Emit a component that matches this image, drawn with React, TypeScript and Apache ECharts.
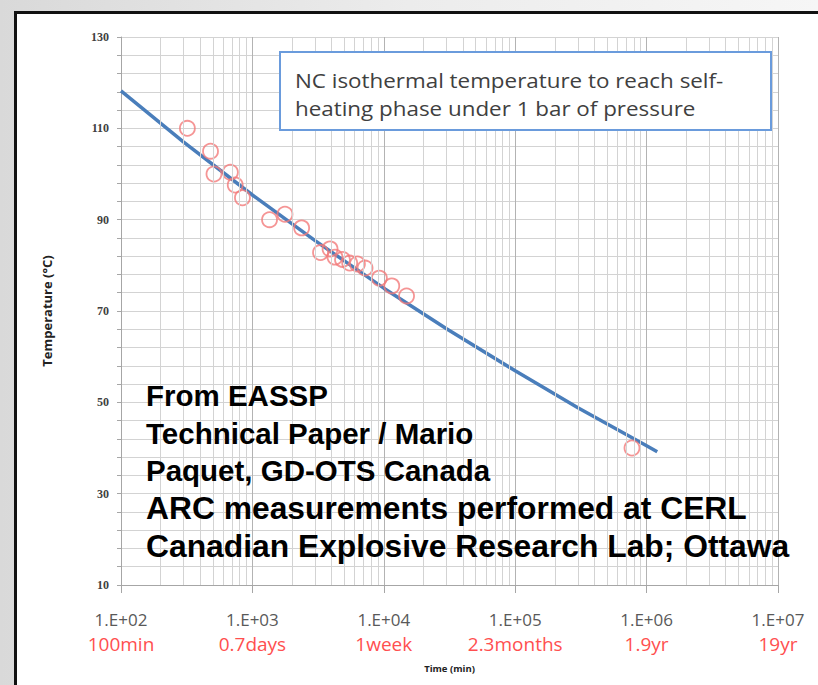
import React, { useEffect, useRef } from "react";
import * as echarts from "echarts";

// Measured points: time to self-heating (min) and isothermal temperature (°C)
const TIME_MIN = [320, 480, 510, 680, 740, 840, 1350, 1770, 2370, 3300, 3900, 4250, 4850, 5500, 6300, 7200, 9250, 11500, 14900, 774000];
const TEMP_C = [110, 105, 100, 100.4, 97.6, 94.8, 90, 91.2, 88.2, 82.8, 83.6, 81.8, 81.3, 80.5, 80.3, 79.4, 77.2, 75.5, 73.3, 40];

// Fitted trend curve
const FIT_TIME = [100, 300, 1000, 3000, 10000, 30000, 100000, 300000, 1000000, 1205000];
const FIT_TEMP = [118.2, 107.0, 95.4, 85.4, 75.0, 66.1, 56.9, 48.8, 40.5, 39.2];

// Axis labels
const X_TICK_LABELS = ["1.E+02", "1.E+03", "1.E+04", "1.E+05", "1.E+06", "1.E+07"];
const X_TIME_LABELS = ["100min", "0.7days", "1week", "2.3months", "1.9yr", "19yr"];
const Y_MIN = 10;
const Y_MAX = 130;
const Y_LABEL_STEP = 20;
const Y_GRID_STEP = 4;

const BOX_TEXT = ["NC isothermal temperature to reach self-", "heating phase under 1 bar of pressure"];
const NOTE_TEXT_A = ["From EASSP", "Technical Paper / Mario", "Paquet, GD-OTS Canada"];
const NOTE_TEXT_B = ["ARC measurements performed at CERL", "Canadian Explosive Research Lab; Ottawa"];

const decadeIndex = (v: number) => Math.round(Math.log10(v)) - 2;

export default function App() {
  const ref = useRef<HTMLDivElement>(null);
  useEffect(() => {
    document.body.style.margin = "0";
    const chart = echarts.init(ref.current!, undefined, { renderer: "svg" });

    const minorX: number[] = [];
    for (let k = 2; k < 7; k++) {
      for (let m = 2; m <= 9; m++) minorX.push(m * Math.pow(10, k));
    }

    const baseX = {
      type: "log",
      logBase: 10,
      min: 100,
      max: 10000000,
      splitNumber: 5,
      gridIndex: 0,
      position: "bottom",
    };

    const option: any = {
      animation: false,
      backgroundColor: "transparent",
      graphic: [
        {
          type: "rect",
          z: -20,
          silent: true,
          shape: { x: 0, y: 0, width: 818, height: 685 },
          style: {
            fill: new echarts.graphic.LinearGradient(0, 0, 1, 0, [
              { offset: 0, color: "#d9d9d9" },
              { offset: 0.5, color: "#ececec" },
              { offset: 1, color: "#f6f6f6" },
            ]),
          },
        },
        {
          type: "rect",
          z: -19,
          silent: true,
          shape: { x: 15.5, y: 12.5, width: 900, height: 800 },
          style: { fill: "#ffffff", stroke: "#111111", lineWidth: 3 },
        },
        {
          type: "rect",
          z: 10,
          silent: true,
          shape: { x: 280, y: 52, width: 491, height: 78 },
          style: { fill: "#ffffff", stroke: "#6a9bdc", lineWidth: 2 },
        },
        {
          type: "text",
          z: 11,
          silent: true,
          x: 295,
          y: 65,
          scaleX: 1.12,
          style: {
            text: BOX_TEXT.join("\n"),
            font: '20px "Open Sans"',
            lineHeight: 29,
            fill: "#404040",
          },
        },
        {
          type: "text",
          z: 12,
          silent: true,
          x: 146,
          y: 377,
          style: {
            text: NOTE_TEXT_A.join("\n"),
            font: 'bold 29.5px "Liberation Sans"',
            lineHeight: 37.5,
            fill: "#000000",
          },
        },
        {
          type: "text",
          z: 12,
          silent: true,
          x: 146,
          y: 489,
          style: {
            text: NOTE_TEXT_B.join("\n"),
            font: 'bold 31.8px "Liberation Sans"',
            lineHeight: 38,
            fill: "#000000",
          },
        },
      ],
      grid: { left: 121, top: 37, right: 40, bottom: 100, containLabel: false },
      xAxis: [
        {
          ...baseX,
          name: "Time (min)",
          nameLocation: "middle",
          nameGap: 78,
          nameTextStyle: { fontFamily: "Open Sans", fontWeight: "bold", fontSize: 9.5, color: "#222" },
          axisLine: { show: true, lineStyle: { color: "#a6a6a6", width: 1 } },
          axisTick: { show: true, length: 8, lineStyle: { color: "#a6a6a6" } },
          splitLine: { show: true, lineStyle: { color: "#b3b3b3", width: 1 } },
          axisLabel: {
            margin: 26,
            fontFamily: "Open Sans",
            fontSize: 17,
            color: "#595959",
            formatter: (v: number) => X_TICK_LABELS[decadeIndex(v)],
          },
        },
        {
          ...baseX,
          axisLine: { show: false },
          axisTick: { show: false },
          splitLine: { show: false },
          axisLabel: {
            margin: 49,
            fontFamily: "Open Sans",
            fontSize: 19,
            color: "#ff4f4f",
            formatter: (v: number) => X_TIME_LABELS[decadeIndex(v)],
          },
        },
      ],
      yAxis: {
        type: "value",
        min: 0,
        max: Y_MAX - Y_MIN,
        interval: Y_GRID_STEP,
        name: "Temperature (°C)",
        nameLocation: "middle",
        nameGap: 68,
        nameTextStyle: { fontFamily: "Open Sans", fontWeight: "bold", fontSize: 13, color: "#222" },
        axisLine: { show: true, lineStyle: { color: "#a6a6a6", width: 1 } },
        axisTick: { show: true, length: 4, lineStyle: { color: "#a6a6a6" } },
        splitLine: { show: true, lineStyle: { color: "#d3d3d3", width: 1 } },
        axisLabel: {
          margin: 12,
          fontFamily: "Liberation Serif",
          fontWeight: "bold",
          fontSize: 12,
          color: "#404040",
          formatter: (v: number) => (v % Y_LABEL_STEP === 0 ? String(v + Y_MIN) : ""),
        },
      },
      series: [
        {
          type: "line",
          z: 1,
          silent: true,
          data: [],
          symbol: "none",
          markLine: {
            silent: true,
            symbol: "none",
            label: { show: false },
            lineStyle: { color: "#d3d3d3", width: 1, type: "solid" },
            data: minorX.map((x) => ({ xAxis: x })),
          },
        },
        {
          type: "line",
          z: 3,
          data: FIT_TIME.map((t, i) => [t, FIT_TEMP[i] - Y_MIN]),
          symbol: "none",
          smooth: false,
          lineStyle: { color: "#4a7ebb", width: 3.5 },
        },
        {
          type: "scatter",
          z: 4,
          data: TIME_MIN.map((t, i) => [t, TEMP_C[i] - Y_MIN]),
          symbol: "circle",
          symbolSize: 15,
          itemStyle: { color: "rgba(0,0,0,0)", borderColor: "#f27b7b", borderWidth: 1.8 },
        },
      ],
    };
    chart.setOption(option);
    return () => chart.dispose();
  }, []);
  return <div ref={ref} style={{ width: 818, height: 685 }} />;
}
